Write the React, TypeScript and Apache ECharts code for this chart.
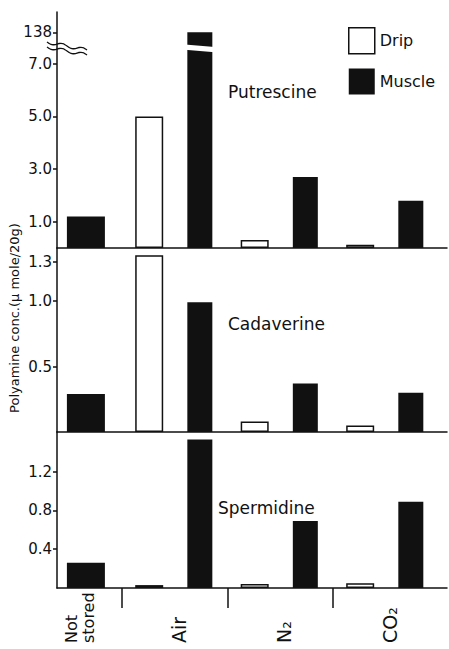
import React, { useEffect, useRef } from "react";
import * as echarts from "echarts";

// ---------- data ----------
const categories = ["Not stored", "Air", "N₂", "CO₂"];
const putrescineDrip = [null, 5.0, 0.3, 0.12];
const putrescineMuscle = [1.2, 138, 2.7, 1.8];
const cadaverineDrip = [null, 1.35, 0.08, 0.05];
const cadaverineMuscle = [0.29, 0.99, 0.37, 0.3];
const spermidineDrip = [null, 0.03, 0.04, 0.05];
const spermidineMuscle = [0.26, 1.53, 0.69, 0.89];
const putrescineTicks = [1.0, 3.0, 5.0, 7.0, 138];
const cadaverineTicks = [0.5, 1.0, 1.3];
const spermidineTicks = [0.4, 0.8, 1.2];
const panelNames = ["Putrescine", "Cadaverine", "Spermidine"];
const seriesNames = ["Drip", "Muscle"];
const yAxisTitle = "Polyamine conc.(μ mole/20g)";

// ---------- layout / style ----------
const INK = "#111";
const FONT = "DejaVu Sans";
const X_MIN = -0.114;
const X_MAX = 3.583;
const DRIP_OFF = -0.24;
const MUSCLE_OFF = 0.24;
const SINGLE_OFF = 0.16;
const BREAK_LO = 7.5;
const BREAK_HI = 137.5;
const BREAK_GAP = 0.2;

// broken-axis transform for the putrescine panel
const brk = (v: number) =>
  v <= BREAK_LO
    ? v
    : v >= BREAK_HI
    ? BREAK_LO + BREAK_GAP + (v - BREAK_HI)
    : BREAK_LO + (BREAK_GAP * (v - BREAK_LO)) / (BREAK_HI - BREAK_LO);

export default function App() {
  const ref = useRef<HTMLDivElement>(null);

  useEffect(() => {
    const chart = echarts.init(ref.current as HTMLDivElement, null, { renderer: "svg" });

    const grids = [
      { left: 57, right: 2, top: 12, height: 236 },
      { left: 57, right: 2, top: 248, height: 184 },
      { left: 57, right: 2, top: 432, height: 156 },
    ];
    const yMax = [8.97, 1.405, 1.608];
    const drips = [putrescineDrip, cadaverineDrip, spermidineDrip];
    const muscles = [putrescineMuscle, cadaverineMuscle, spermidineMuscle];
    const tickSets = [putrescineTicks, cadaverineTicks, spermidineTicks];

    const xAxes: any[] = [];
    const yAxes: any[] = [];
    const series: any[] = [];

    for (let p = 0; p < 3; p++) {
      const tf = p === 0 ? brk : (v: number) => v;
      for (let k = 0; k < 3; k++) {
        const main = k === 0;
        const bottom = p === 2 && main;
        xAxes.push({
          type: "value",
          gridIndex: p,
          min: X_MIN,
          max: X_MAX,
          show: main,
          splitLine: { show: false },
          axisLine: { show: true, onZero: false, lineStyle: { color: INK, width: 1.5 } },
          axisTick: bottom
            ? {
                show: true,
                customValues: [0.5, 1.5, 2.5],
                length: 20,
                inside: false,
                lineStyle: { color: INK, width: 1.5 },
              }
            : { show: false },
          axisLabel: bottom
            ? {
                show: true,
                customValues: categories.map((_, i) => (i === 0 ? 0.1 : i + 0.04)),
                rotate: 90,
                align: "left",
                verticalAlign: "middle",
                margin: 55,
                color: INK,
                fontFamily: FONT,
                formatter: (v: number) => {
                  const i = Math.round(v);
                  const name = categories[i];
                  if (i === 0) return name.split(" ").map((s) => `{s|${s}}`).join("\n");
                  return `{b|${name}}`;
                },
                rich: {
                  s: { fontSize: 16, lineHeight: 17, fontFamily: FONT, color: INK },
                  b: { fontSize: 19, fontFamily: FONT, color: INK },
                },
              }
            : { show: false },
        });
      }
      const ticks = tickSets[p];
      yAxes.push({
        type: "value",
        gridIndex: p,
        min: 0,
        max: yMax[p],
        splitLine: { show: false },
        axisLine: { show: true, onZero: false, lineStyle: { color: INK, width: 1.5 } },
        axisTick: {
          show: true,
          customValues: ticks.map(tf),
          length: 4,
          lineStyle: { color: INK, width: 1.5 },
        },
        axisLabel: {
          show: true,
          customValues: ticks.map(tf),
          margin: 5,
          fontSize: 15,
          color: INK,
          fontFamily: FONT,
          formatter: (v: number) => {
            const idx = ticks.findIndex((t) => Math.abs(tf(t) - v) < 1e-6);
            const t = idx >= 0 ? ticks[idx] : v;
            return t >= 100 ? String(t) : t.toFixed(1);
          },
        },
      });

      const drip = drips[p];
      const muscle = muscles[p];
      // lone muscle bar of "Not stored"
      series.push({
        type: "bar",
        name: seriesNames[1],
        xAxisIndex: p * 3,
        yAxisIndex: p,
        barWidth: 38,
        itemStyle: { color: INK },
        data: [[0 + SINGLE_OFF, tf(muscle[0] as number)]],
      });
      series.push({
        type: "bar",
        name: seriesNames[1],
        xAxisIndex: p * 3 + 1,
        yAxisIndex: p,
        barWidth: 25,
        itemStyle: { color: INK },
        data: muscle
          .map((v, i) => (i === 0 || v == null ? null : [i + MUSCLE_OFF, tf(v as number)]))
          .filter((d) => d),
      });
      series.push({
        type: "bar",
        name: seriesNames[0],
        xAxisIndex: p * 3 + 2,
        yAxisIndex: p,
        barWidth: 28,
        itemStyle: { color: "#fff", borderColor: INK, borderWidth: 1.5 },
        data: drip
          .map((v, i) => (v == null ? null : [i + DRIP_OFF, tf(v as number)]))
          .filter((d) => d),
      });
    }

    const titlePos = [
      [228, 92],
      [228, 324],
      [218, 508],
    ];

    chart.setOption({
      animation: false,
      backgroundColor: "#fff",
      textStyle: { fontFamily: FONT },
      grid: grids,
      xAxis: xAxes,
      yAxis: yAxes,
      series,
      legend: {
        left: 348,
        top: 27,
        padding: 0,
        orient: "vertical",
        itemWidth: 26,
        itemHeight: 26,
        itemGap: 14,
        icon: "rect",
        textStyle: { fontSize: 16, color: INK, fontFamily: FONT },
        data: [
          { name: seriesNames[0], itemStyle: { color: "#fff", borderColor: INK, borderWidth: 1.5 } },
          { name: seriesNames[1], itemStyle: { color: INK, borderWidth: 0 } },
        ],
      },
    });

    // broken-axis decorations, placed through the axis scales
    const toPx = (x: number, y: number) =>
      chart.convertToPixel({ xAxisIndex: 1, yAxisIndex: 0 }, [x, y]) as number[];
    const airX = 1 + MUSCLE_OFF;
    const [cx, yLo] = toPx(airX, BREAK_LO);
    const yHi = toPx(airX, BREAK_LO + BREAK_GAP)[1];
    const axX = toPx(X_MIN, 0)[0];
    const yMid = (yLo + yHi) / 2;

    const wave = (x0: number, y0: number) => {
      const pts: number[][] = [];
      const len = 40;
      for (let t = 0; t <= len; t += 2) {
        pts.push([x0 + t, y0 + t * 0.2 + 1.6 * Math.sin((t / len) * 4 * Math.PI)]);
      }
      return pts;
    };

    const graphic: any[] = [
      {
        type: "polygon",
        z: 100,
        shape: {
          points: [
            [cx - 15, yHi - 1],
            [cx + 15, yHi + 1.5],
            [cx + 15, yLo + 1.5],
            [cx - 15, yLo - 1],
          ],
        },
        style: { fill: "#fff" },
      },
      {
        type: "polyline",
        z: 100,
        shape: { points: wave(axX - 10, yMid - 6), smooth: 0.4 },
        style: { stroke: INK, lineWidth: 1.3, fill: null },
      },
      {
        type: "polyline",
        z: 100,
        shape: { points: wave(axX - 10, yMid - 1), smooth: 0.4 },
        style: { stroke: INK, lineWidth: 1.3, fill: null },
      },
      {
        type: "text",
        x: 14,
        y: 318,
        rotation: Math.PI / 2,
        style: {
          text: yAxisTitle,
          fontSize: 13,
          fontFamily: FONT,
          fill: INK,
          align: "center",
          verticalAlign: "middle",
        },
      },
      ...panelNames.map((name, i) => ({
        type: "text",
        x: titlePos[i][0],
        y: titlePos[i][1],
        style: {
          text: name,
          fontSize: 17,
          fontFamily: FONT,
          fill: INK,
          align: "left",
          verticalAlign: "middle",
        },
      })),
    ];

    chart.setOption({ graphic });

    return () => chart.dispose();
  }, []);

  return (
    <div
      ref={ref}
      style={{ position: "fixed", left: 0, top: 0, width: 449, height: 649, background: "#fff" }}
    />
  );
}
